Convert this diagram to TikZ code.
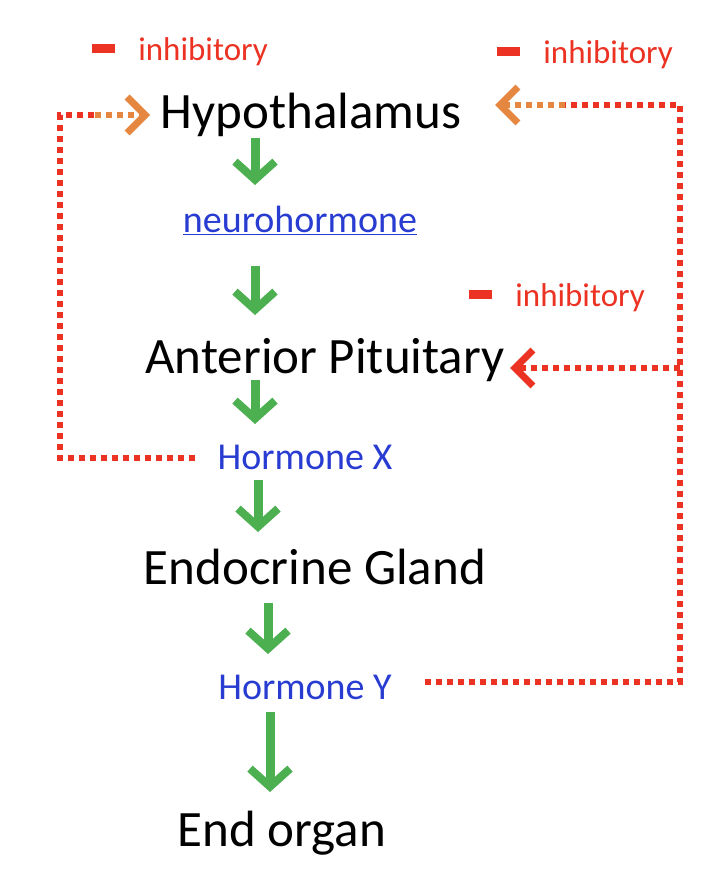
\documentclass[tikz,border=0pt]{standalone}
\usepackage{fontspec}
\setmainfont{Carlito}
\usetikzlibrary{arrows.meta}
\definecolor{grn}{RGB}{76,175,80}
\definecolor{inhred}{RGB}{235,50,35}
\definecolor{fborange}{RGB}{230,135,65}
\definecolor{hblue}{RGB}{40,60,210}
\begin{document}
\begin{tikzpicture}[x=1pt,y=-1pt]
    \tikzset{organ/.style={font=\fontsize{51}{56}\selectfont},
             hormone/.style={font=\fontsize{38}{42}\selectfont,text=hblue},
             inhib/.style={font=\fontsize{33}{37}\selectfont,text=inhred},
             stim/.style={grn,line width=9pt,-{Straight Barb[length=18pt,width=40pt,line width=8pt]}},
             fb/.style={inhred,line width=6pt,dash pattern=on 6pt off 5pt},
             fbtip/.style={-{Straight Barb[length=18pt,width=36pt,line width=7pt]}}}
    \useasboundingbox (0,0) rectangle (724,896);

    \node[organ] (hyp) at (311,115) {Hypothalamus};
    \node[hormone] (nh) at (300,220) {\underline{neurohormone}};
    \node[organ] (ap) at (325,360) {Anterior Pituitary};
    \node[hormone] (hx) at (305,457) {Hormone X};
    \node[organ] (eg) at (315,567) {Endocrine Gland};
    \node[hormone] (hy) at (305,687) {Hormone Y};
    \node[organ] (eo) at (282,833) {End organ};

    \node[inhib] (i1) at (180,52) {\rule[0.25em]{0.7em}{0.25em}\hspace{0.7em}inhibitory};
    \node[inhib] (i2) at (585,55) {\rule[0.25em]{0.7em}{0.25em}\hspace{0.7em}inhibitory};
    \node[inhib] (i3) at (557,298) {\rule[0.25em]{0.7em}{0.25em}\hspace{0.7em}inhibitory};

    % stimulatory arrows
    \coordinate (a1s) at (255,138); \coordinate (a1e) at (255,185);
    \coordinate (a2s) at (255,266); \coordinate (a2e) at (255,315);
    \coordinate (a3s) at (255,380); \coordinate (a3e) at (255,424);
    \coordinate (a4s) at (258,480); \coordinate (a4e) at (258,532);
    \coordinate (a5s) at (268,603); \coordinate (a5e) at (268,654);
    \coordinate (a6s) at (270,712); \coordinate (a6e) at (270,792);
    \foreach \n in {1,...,6}
        \draw[stim] (a\n s) -- (a\n e);

    % feedback loops
    \coordinate (lx) at (60,458);
    \coordinate (lt) at (60,115);
    \coordinate (lh) at (150,115);
    \draw[fb] (195,458) -- (lx) -- (lt) -- (95,115);
    \draw[fb,fborange,fbtip] (95,115) -- (lh);

    \coordinate (rb) at (680,682);
    \coordinate (rm) at (680,368);
    \coordinate (rt) at (680,105);
    \draw[fb] (425,682) -- (rb) -- (rt) -- (565,105);
    \draw[fb,fborange,fbtip] (565,105) -- (495,105);
    \draw[fb,fbtip] (rm) -- (510,368);
\end{tikzpicture}
\end{document}
